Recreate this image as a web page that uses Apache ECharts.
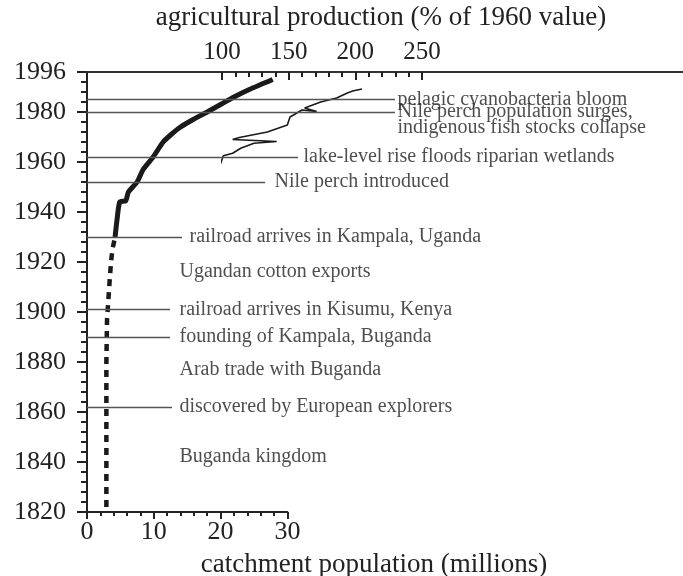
<!DOCTYPE html>
<html>
<head>
<meta charset="utf-8">
<script src="https://cdn.jsdelivr.net/npm/echarts@6/dist/echarts.min.js"></script>
<style>
  html, body { margin: 0; padding: 0; background: #fff; }
  #chart { width: 683px; height: 576px; }
</style>
</head>
<body>
<div id="chart"></div>
<script>
// catchment population (millions)
var popYears  = [1822, 1840, 1860, 1880, 1897, 1905, 1913, 1920, 1925, 1930, 1937, 1944, 1944.5, 1948, 1952, 1957, 1962, 1968, 1971, 1974, 1977, 1980, 1983, 1986, 1989, 1993];
var popValues = [2.9, 2.9, 2.9, 2.9, 3.0, 3.2, 3.4, 3.6, 3.8, 4.2, 4.5, 4.9, 5.8, 6.2, 7.5, 8.4, 9.9, 11.4, 12.6, 14.0, 15.9, 18.0, 20.0, 22.0, 24.3, 27.8];
var dashedUntil = 1930; // dashed before this year, solid after

// agricultural production (% of 1960 value), thin line
var agriYears  = [1958, 1962.5, 1963.5, 1965.5, 1967.5, 1968.2, 1969, 1969.8, 1972, 1974.8, 1978, 1980.8, 1980.2, 1981.6, 1984, 1985.6, 1987.6, 1988.4, 1989.2];
var agriValues = [98, 101, 108, 114, 124, 141, 108, 113, 134, 149, 151, 160, 171, 162, 174, 186, 194, 198, 205];

// events along the year axis
var eventYears = [1985, 1980, 1962, 1952, 1930, 1916, 1901, 1890, 1877, 1862, 1842];
var eventTexts = [
  'pelagic cyanobacteria bloom',
  'Nile perch population surges,\nindigenous fish stocks collapse',
  'lake-level rise floods riparian wetlands',
  'Nile perch introduced',
  'railroad arrives in Kampala, Uganda',
  'Ugandan cotton exports',
  'railroad arrives in Kisumu, Kenya',
  'founding of Kampala, Buganda',
  'Arab trade with Buganda',
  'discovered by European explorers',
  'Buganda kingdom'
];
// layout only: pixels right of the year axis (0 = no rule)
var eventLineEnd = [308, 308, 211, 178, 95, 0, 83, 83, 0, 85, 0];
var eventTextX   = [310, 310, 216, 187, 102, 92, 92, 92, 92, 92, 92];

var serif = 'Liberation Serif';
var ink = '#222';

var popDashed = [], popSolid = [];
popYears.forEach(function (y, i) {
  if (y <= dashedUntil) popDashed.push([popValues[i], y]);
  if (y >= dashedUntil) popSolid.push([popValues[i], y]);
});
var agriData = agriYears.map(function (y, i) { return [agriValues[i], y]; });

var ruleData = [];
var textData = [];
eventYears.forEach(function (y, i) {
  if (eventLineEnd[i] > 0) {
    ruleData.push([{ coord: [0, y] }, { coord: [eventLineEnd[i], y] }]);
  }
  var item = { name: eventTexts[i], value: [eventTextX[i], y] };
  if (eventTexts[i].indexOf('\n') >= 0) item.label = { offset: [0, 8] };
  textData.push(item);
});

var chart = echarts.init(document.getElementById('chart'));
chart.setOption({
  animation: false,
  backgroundColor: '#fff',
  graphic: [
    { type: 'text', x: 381, y: 18, style: { text: 'agricultural production (% of 1960 value)', fontFamily: serif, fontSize: 27, fill: ink, align: 'center', verticalAlign: 'middle', textAlign: 'center', textVerticalAlign: 'middle' } },
    { type: 'text', x: 374, y: 565, style: { text: 'catchment population (millions)', fontFamily: serif, fontSize: 27, fill: ink, align: 'center', verticalAlign: 'middle', textAlign: 'center', textVerticalAlign: 'middle' } }
  ],
  grid: [
    { left: 87, top: 72, width: 596, height: 440 },   // frame + events
    { left: 87, top: 72, width: 200.4, height: 440 }, // population
    { left: 222, top: 72, width: 200, height: 440 }   // agriculture
  ],
  xAxis: [
    {
      gridIndex: 0, type: 'value', position: 'top', min: 0, max: 596,
      axisLine: { show: true, lineStyle: { color: '#333', width: 2 } },
      axisTick: { show: false }, axisLabel: { show: false }, splitLine: { show: false }
    },
    {
      gridIndex: 1, type: 'value', position: 'bottom', min: 0, max: 30, interval: 10,
      axisLine: { show: true, lineStyle: { color: ink, width: 2 } },
      axisTick: { show: true, length: 7, lineStyle: { color: ink, width: 2 } },
      minorTick: { show: true, splitNumber: 5, length: 4, lineStyle: { color: ink, width: 2 } },
      axisLabel: { fontFamily: serif, fontSize: 26, color: ink, margin: 7 },
      splitLine: { show: false }
    },
    {
      gridIndex: 2, type: 'value', position: 'top', min: 100, max: 250, interval: 50,
      axisLine: { show: false },
      axisTick: { show: true, inside: true, length: 8, lineStyle: { color: ink, width: 2 } },
      minorTick: { show: true, splitNumber: 5, length: 5, lineStyle: { color: ink, width: 2 } },
      axisLabel: { fontFamily: serif, fontSize: 25, color: ink, margin: 7 },
      splitLine: { show: false }
    }
  ],
  yAxis: [
    {
      gridIndex: 0, type: 'value', min: 1820, max: 1996, interval: 20,
      axisLine: { show: true, lineStyle: { color: ink, width: 2 } },
      axisTick: { show: true, length: 10, lineStyle: { color: ink, width: 2 } },
      axisLabel: {
        fontFamily: serif, fontSize: 26, color: ink, margin: 21,
        showMaxLabel: true, showMinLabel: true,
        formatter: function (v) { return String(v); }
      },
      splitLine: { show: false }
    },
    {
      gridIndex: 1, type: 'value', min: 1820, max: 1996, interval: 4,
      axisLine: { show: false },
      axisTick: { show: true, length: 6, lineStyle: { color: ink, width: 2 } },
      axisLabel: { show: false }, splitLine: { show: false }
    },
    { gridIndex: 2, type: 'value', min: 1820, max: 1996, show: false }
  ],
  series: [
    {
      name: 'events', type: 'scatter', xAxisIndex: 0, yAxisIndex: 0,
      symbolSize: 1, itemStyle: { color: 'rgba(0,0,0,0)' }, silent: true,
      label: {
        show: true, position: 'right', distance: 0, formatter: '{b}',
        fontFamily: serif, fontSize: 20, lineHeight: 16, color: ink
      },
      data: textData,
      markLine: {
        silent: true, symbol: ['none', 'none'], label: { show: false },
        lineStyle: { color: '#555', width: 1.3, type: 'solid' },
        data: ruleData
      }
    },
    {
      name: 'population (early)', type: 'line', xAxisIndex: 1, yAxisIndex: 1,
      showSymbol: false, symbol: 'none', clip: false,
      lineStyle: { color: '#1a1a1a', width: 4.5, type: [7, 6] },
      data: popDashed
    },
    {
      name: 'population', type: 'line', xAxisIndex: 1, yAxisIndex: 1,
      showSymbol: false, symbol: 'none', clip: false, smooth: 0.2,
      lineStyle: { color: '#1a1a1a', width: 5 },
      data: popSolid
    },
    {
      name: 'agricultural production', type: 'line', xAxisIndex: 2, yAxisIndex: 2,
      showSymbol: false, symbol: 'none', clip: false,
      lineStyle: { color: '#1a1a1a', width: 1.6 },
      data: agriData
    }
  ]
});
</script>
</body>
</html>
